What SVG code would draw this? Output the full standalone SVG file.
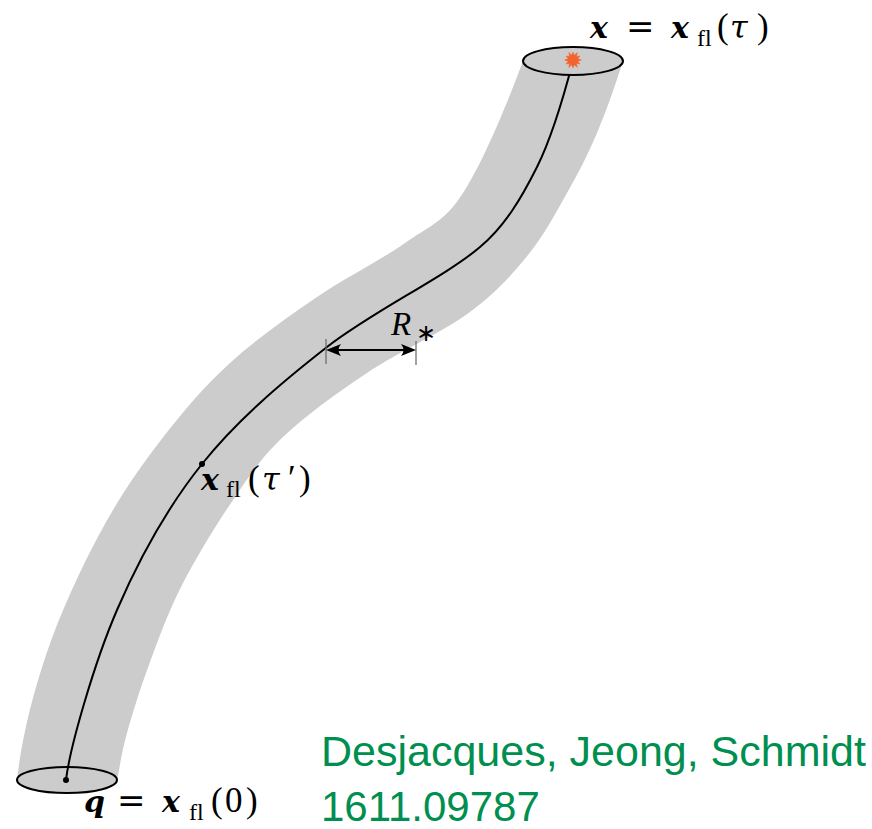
<svg xmlns="http://www.w3.org/2000/svg" width="872" height="829" viewBox="0 0 872 829">
  <style>
    .tube { fill: #cccccc; stroke: none; }
    .cap { fill: #cccccc; stroke: #000; stroke-width: 2; }
    .path { fill: none; stroke: #000; stroke-width: 2; }
    .dot { fill: #000; }
    .tick { stroke: #666; stroke-width: 1.2; }
    .math { font-family: "Liberation Serif", "Times New Roman", serif; font-size: 35px; fill: #000; }
    .bi { font-family: "DejaVu Serif", serif; font-weight: bold; font-style: italic; font-size: 30px; }
    .eq { font-family: "DejaVu Serif", serif; font-size: 34px; }
    .tau { font-family: "DejaVu Serif", serif; font-style: italic; font-size: 32px; }
    .it { font-style: italic; }
    .sub { font-size: 24px; }
    .credit { font-family: "Liberation Sans", Arial, Helvetica, sans-serif; fill: #008f4f; }
  </style>
  <defs>
    <marker id="ah" viewBox="-16 -7 17 14" refX="-3" refY="0" markerWidth="17" markerHeight="14" markerUnits="userSpaceOnUse" orient="auto-start-reverse">
      <path d="M0,0 L-15,-6 Q-10,0 -15,6 Z" fill="#000"/>
    </marker>
  </defs>

  <g id="tube">
    <path class="tube" d="M523,61 C506.3,106 482.7,162.7 463,193 C443.3,223.3 429.3,225.7 405,243 C380.7,260.3 346.2,277 317,297 C287.8,317 256,339.2 230,363 C204,386.8 182.7,411.7 161,440 C139.3,468.3 119.2,497.2 100,533 C80.8,568.8 59.8,613.8 46,655 C32.2,696.2 21.7,738.3 17,780 L117,780 C120.3,765 121.5,752.7 127,733 C132.5,713.3 140.8,686.7 150,662 C159.2,637.3 168.2,612 182,585 C195.8,558 216.2,524.7 233,500 C249.8,475.3 260.7,458.2 283,437 C305.3,415.8 335.8,393.8 367,373 C398.2,352.2 443.2,331.7 470,312 C496.8,292.3 511.8,274.8 528,255 C544.2,235.2 555.5,213.3 567,193 C578.5,172.7 587.7,155 597,133 C606.3,111 615,86 623,61 Z"/>
  </g>

  <g id="bottom-cap">
    <ellipse class="cap" cx="67" cy="780" rx="50" ry="13"/>
  </g>

  <g id="connectors">
    <path id="worldline" class="path" d="M573,61 C564.3,94.3 552.5,136 537,167 C521.5,198 505,226 480,247 C445,277 373.3,310.8 327,347 C280.7,383.2 237,420.2 202,464 C167,507.8 139.7,557.3 117,610 C94.3,662.7 70,746.7 66,780"/>
  </g>

  <g id="top-cap">
    <ellipse class="cap" cx="573" cy="61" rx="50" ry="14"/>
    <polygon fill="#f4622e" stroke="#f4622e" stroke-width="0.5" points="581.5,60 577.8,61.3 579.9,64 576.5,63.5 577.3,67.4 574.3,64.8 573,68 571.7,64.8 568.8,67.4 569.5,63.5 566.1,64 568.2,61.3 564.5,60 568.2,58.7 566.1,56 569.5,56.5 568.8,52.6 571.7,55.2 573,52 574.3,55.2 577.3,52.6 576.5,56.5 579.9,56 577.8,58.7"/>
  </g>

  <g id="points">
    <circle class="dot" cx="202" cy="464" r="3"/>
    <circle class="dot" cx="66" cy="780" r="3"/>
  </g>

  <g id="radius">
    <line class="tick" x1="326" y1="339" x2="326" y2="364"/>
    <line class="tick" x1="416" y1="341" x2="416" y2="365"/>
    <line x1="329" y1="350" x2="413" y2="350" stroke="#000" stroke-width="2" marker-start="url(#ah)" marker-end="url(#ah)"/>
    <text class="math" x="391" y="335" style="font-size:33px"><tspan class="it">R</tspan><tspan x="416" y="341" style="font-size:24px">∗</tspan></text>
  </g>

  <g id="label-top">
    <text class="math" y="38"><tspan class="bi" x="590">x</tspan><tspan class="eq" x="626">=</tspan><tspan class="bi" x="671">x</tspan><tspan class="sub" x="697" y="46">fl</tspan><tspan x="717" y="38">(</tspan><tspan class="tau" x="730">τ</tspan><tspan x="757">)</tspan></text>
  </g>

  <g id="label-mid">
    <text class="math" y="490"><tspan class="bi" x="201">x</tspan><tspan class="sub" x="226" y="497">fl</tspan><tspan x="248" y="490">(</tspan><tspan class="tau" x="262">τ</tspan><tspan x="288">′</tspan><tspan x="299">)</tspan></text>
  </g>

  <g id="label-bottom">
    <text class="math" y="812"><tspan class="bi" x="84">q</tspan><tspan class="eq" x="117">=</tspan><tspan class="bi" x="162">x</tspan><tspan class="sub" x="189" y="820">fl</tspan><tspan x="211" y="812">(</tspan><tspan x="225">0</tspan><tspan x="246">)</tspan></text>
  </g>

  <g id="credit">
    <text class="credit" x="321" y="766" style="font-size:43px">Desjacques, Jeong, Schmidt</text>
    <text class="credit" x="321" y="821" style="font-size:42px">1611.09787</text>
  </g>
</svg>
